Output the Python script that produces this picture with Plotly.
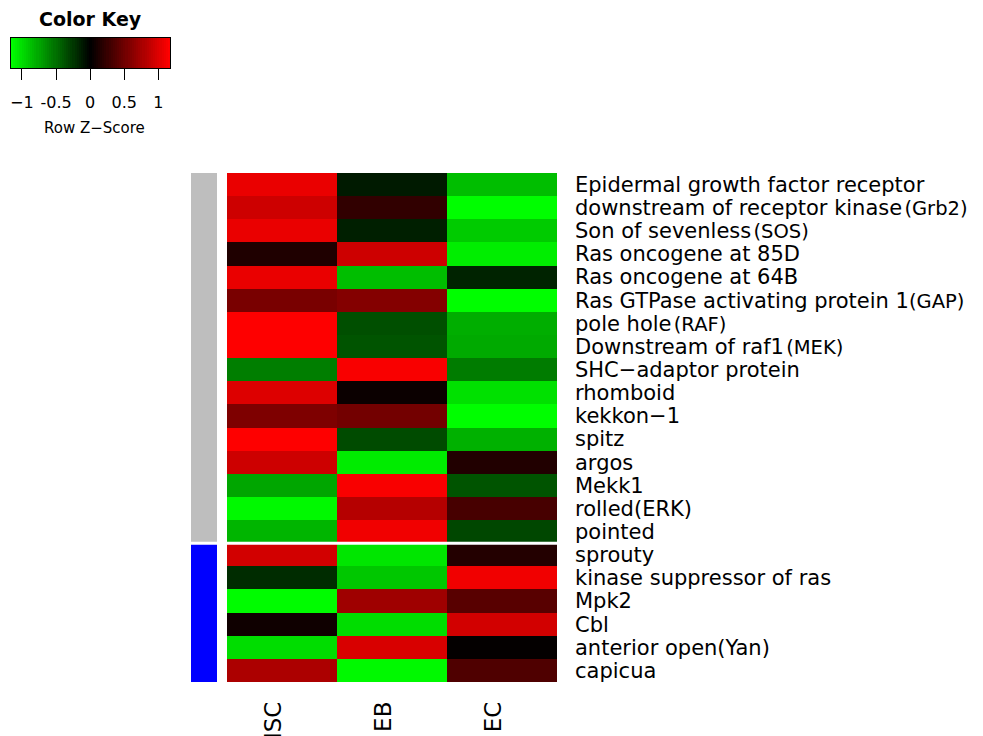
import numpy as np
import plotly.graph_objects as go

W, H = 983, 736

samples = ["ISC", "EB", "EC"]
SM = "<span style='font-size:19.5px'>"
SP = "<span style='font-size:7px'> </span>"
gene_labels = [
    "Epidermal growth factor receptor",
    "downstream of receptor kinase" + SP + SM + "(Grb2)</span>",
    "Son of sevenless" + SP + SM + "(SOS)</span>",
    "Ras oncogene at 85D",
    "Ras oncogene at 64B",
    "Ras GTPase activating protein 1" + SM + "(GAP)</span>",
    "pole hole" + SP + SM + "(RAF)</span>",
    "Downstream of raf1" + SP + SM + "(MEK)</span>",
    "SHC\u2212adaptor protein",
    "rhomboid",
    "kekkon\u22121",
    "spitz",
    "argos",
    "Mekk1",
    "rolled(ERK)",
    "pointed",
    "sprouty",
    "kinase suppressor of ras",
    "Mpk2",
    "Cbl",
    "anterior open(Yan)",
    "capicua",
]
row_group = [0] * 16 + [1] * 6  # 0 = grey group, 1 = blue group

z_isc = [1.06, 0.93, 1.06, 0.14, 1.06, 0.55, 1.15, 1.15, -0.57, 1.00, 0.57,
         1.15, 0.93, -0.75, -1.13, -0.82, 0.95, -0.20, -1.14, 0.07, -1.00, 0.78]
z_eb = [-0.12, 0.22, -0.14, 0.93, -0.86, 0.60, -0.36, -0.38, 1.13, 0.05, 0.52,
        -0.34, -1.07, 1.13, 0.82, 1.09, -1.04, -0.90, 0.72, -1.00, 0.98, -1.13]
z_ec = [-0.86, -1.15, -0.92, -1.08, -0.16, -1.15, -0.79, -0.77, -0.56, -1.02, -1.15,
        -0.80, 0.15, -0.38, 0.32, -0.32, 0.16, 1.09, 0.40, 0.95, 0.02, 0.36]

key_ticks = [-1, -0.5, 0, 0.5, 1]
key_ticktext = ["\u22121", "-0.5", "0", "0.5", "1"]

ZMAX = 1.155
cscale = [[0, "rgb(0,255,0)"], [0.5, "rgb(0,0,0)"], [1, "rgb(255,0,0)"]]
FONT = "DejaVu Sans"

def px_x(a, b):
    return [a / W, b / W]

def px_y(top, bottom):
    return [1 - bottom / H, 1 - top / H]

z = [[a, b, c] for a, b, c in zip(z_isc, z_eb, z_ec)]
rows = list(range(len(gene_labels)))

fig = go.Figure()

fig.add_trace(go.Heatmap(
    z=z, x=[0, 1, 2], y=rows, colorscale=cscale, zmin=-ZMAX, zmax=ZMAX,
    showscale=False, xaxis="x", yaxis="y", hoverinfo="skip"))

fig.add_trace(go.Heatmap(
    z=[[g] for g in row_group], x=[0], y=rows,
    colorscale=[[0, "#BEBEBE"], [1, "#0000FF"]], zmin=0, zmax=1,
    showscale=False, xaxis="x3", yaxis="y", hoverinfo="skip"))

# colour key gradient
edges = np.linspace(-1.16, 1.17, 76)
centers = (edges[:-1] + edges[1:]) / 2
fig.add_trace(go.Heatmap(
    z=[list(centers)], x=list(edges), y=[0],
    colorscale=cscale, zmin=-ZMAX, zmax=ZMAX,
    showscale=False, xaxis="x2", yaxis="y2", hoverinfo="skip"))

fig.update_layout(
    width=W, height=H, margin=dict(l=0, r=0, t=0, b=0, autoexpand=False),
    paper_bgcolor="white", plot_bgcolor="white",
    font=dict(family=FONT, color="black"),
    xaxis=dict(domain=px_x(227, 557), range=[-0.5, 2.5], anchor="y", automargin=False,
               tickmode="array", tickvals=[-0.08, 0.92, 1.92], ticktext=samples,
               tickangle=-90, ticks="", ticklabelstandoff=14,
               tickfont=dict(size=23), showgrid=False, zeroline=False, showline=False),
    yaxis=dict(domain=px_y(173, 682), range=[21.5, -0.5], anchor="x", side="right",
               automargin=False,
               tickmode="array", tickvals=rows, ticktext=gene_labels,
               ticks="", ticklabelstandoff=17, tickfont=dict(size=21),
               showgrid=False, zeroline=False, showline=False),
    xaxis3=dict(domain=px_x(191, 217), range=[-0.5, 0.5], anchor="y", automargin=False,
                showticklabels=False, ticks="", showgrid=False, zeroline=False),
    xaxis2=dict(domain=px_x(11, 170), range=[-1.16, 1.17], anchor="y2", automargin=False,
                tickmode="array", tickvals=key_ticks, ticktext=key_ticktext,
                ticks="outside", ticklen=11, tickwidth=1, tickcolor="black",
                ticklabelstandoff=9, tickfont=dict(size=16),
                showline=True, mirror=True, linecolor="black", linewidth=1,
                showgrid=False, zeroline=False),
    yaxis2=dict(domain=px_y(38, 68), range=[-0.5, 0.5], anchor="x2", automargin=False,
                showticklabels=False, ticks="", showline=True, mirror=True,
                linecolor="black", linewidth=1, showgrid=False, zeroline=False),
    shapes=[dict(type="line", xref="paper", yref="y", x0=185 / W, x1=562 / W,
                 y0=15.5, y1=15.5, line=dict(color="white", width=3))],
    annotations=[
        dict(text="<b>Color Key</b>", x=90 / W, y=1 - 19 / H, xref="paper", yref="paper",
             xanchor="center", yanchor="middle", showarrow=False, font=dict(size=19)),
        dict(text="Row Z\u2212Score", x=94 / W, y=1 - 128 / H, xref="paper", yref="paper",
             xanchor="center", yanchor="middle", showarrow=False, font=dict(size=15)),
    ],
)

post = ("document.documentElement.style.margin='0';"
        "document.documentElement.style.overflow='hidden';"
        "document.body.style.margin='0';"
        "document.body.style.overflow='hidden';"
        "document.body.style.height='736px';")
fig.write_html("out.html", config={"displayModeBar": False}, post_script=post)
